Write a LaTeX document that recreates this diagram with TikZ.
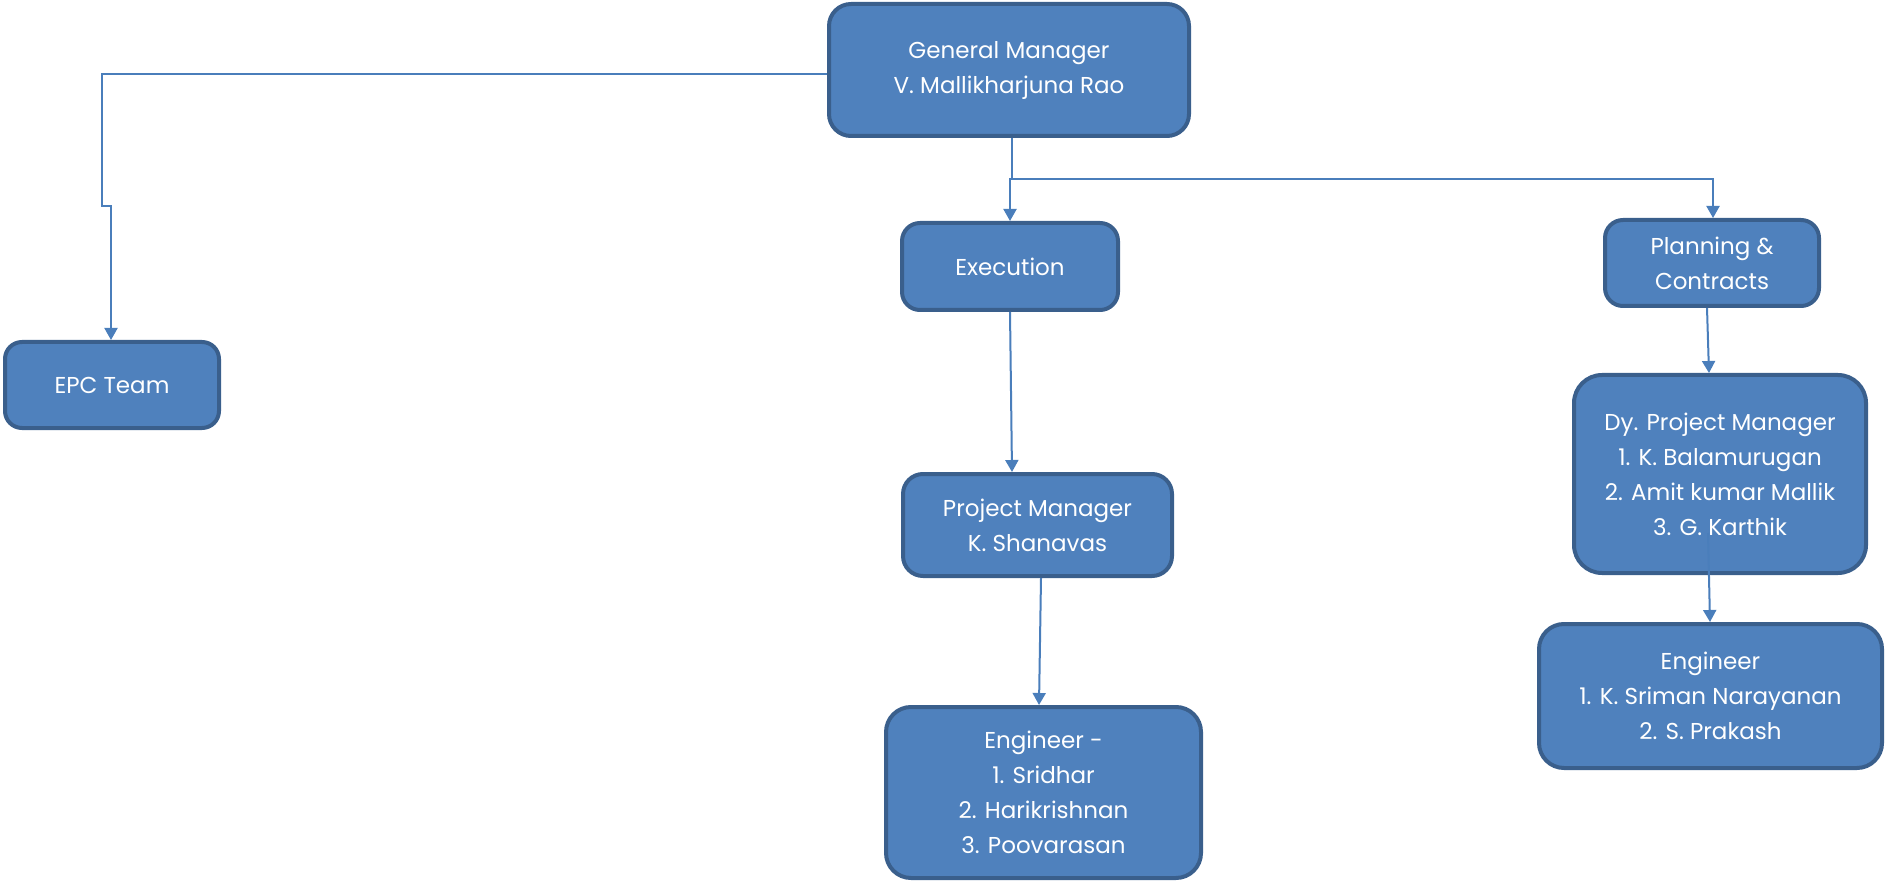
\documentclass[tikz,border=0pt]{standalone}
\usepackage{fontspec}
\setmainfont{Poppins}
\usetikzlibrary{arrows.meta}
\definecolor{boxfill}{HTML}{4F81BD}
\definecolor{boxline}{HTML}{3A5F8C}
\definecolor{conn}{HTML}{4A7EBB}
\tikzset{
  orgbox/.style={draw=boxline, fill=boxfill, line width=4pt, rounded corners=#1,
    text=white, align=center, inner sep=0pt, font=\fontsize{23}{35}\selectfont},
  orgbox/.default=20pt,
  link/.style={draw=conn, line width=2pt},
  arr/.style={link, -{Triangle[width=13pt,length=12pt]}},
}
\begin{document}
\begin{tikzpicture}[x=1pt,y=-1pt]
\useasboundingbox (0,0) rectangle (1887,882);
\node[orgbox=22pt, minimum width=360pt, minimum height=132pt] (gm) at (1009,70) {General Manager\\V. Mallikharjuna Rao};
\node[orgbox=17pt, minimum width=214pt, minimum height=86pt] (epc) at (112,385) {EPC Team};
\node[orgbox=18pt, minimum width=216pt, minimum height=87pt] (exe) at (1010,266.5) {Execution};
\node[orgbox=18pt, minimum width=214pt, minimum height=86pt] (plan) at (1712,263) {Planning \&\\Contracts};
\node[orgbox=20pt, minimum width=269pt, minimum height=102pt] (pm) at (1037.5,525) {Project Manager\\K. Shanavas};
\node[orgbox=25pt, minimum width=315pt, minimum height=171pt] (engL) at (1043.5,792.5) {Engineer -\\1. Sridhar\\2. Harikrishnan\\3. Poovarasan};
\node[orgbox=28pt, minimum width=292pt, minimum height=198pt] (dpm) at (1720,474) {Dy. Project Manager\\1. K. Balamurugan\\2. Amit kumar Mallik\\3. G. Karthik};
\node[orgbox=25pt, minimum width=343pt, minimum height=144pt] (engR) at (1710.5,696) {Engineer\\1. K. Sriman Narayanan\\2. S. Prakash};
% GM -> EPC
\coordinate (l1) at (102,74);
\coordinate (l2) at (102,206);
\coordinate (l3) at (111,206);
\draw[arr] (gm.west |- l1) -- (l1) -- (l2) -- (l3) -- (l3 |- epc.north);
% GM -> Execution, Planning
\coordinate (t1) at (1012,179);
\coordinate (t2) at (1010,179);
\coordinate (t3) at (1713,179);
\draw[arr] (t1 |- gm.south) -- (t1) -- (t2) -- (t2 |- exe.north);
\draw[arr] (t2) -- (t3) -- (t3 |- plan.north);
% Execution -> PM
\coordinate (e1) at (1010,0);
\coordinate (e2) at (1012,0);
\draw[arr] (e1 |- exe.south) -- (e2 |- pm.north);
% PM -> Engineer
\coordinate (p1) at (1041,0);
\coordinate (p2) at (1039,0);
\draw[arr] (p1 |- pm.south) -- (p2 |- engL.north);
% Planning -> Dy PM
\coordinate (q1) at (1707,0);
\coordinate (q2) at (1709,0);
\draw[arr] (q1 |- plan.south) -- (q2 |- dpm.north);
% Dy PM -> Engineer
\coordinate (d1) at (1708,533);
\coordinate (d2) at (1710,0);
\draw[arr] (d1) -- (d2 |- engR.north);
\end{tikzpicture}
\end{document}
